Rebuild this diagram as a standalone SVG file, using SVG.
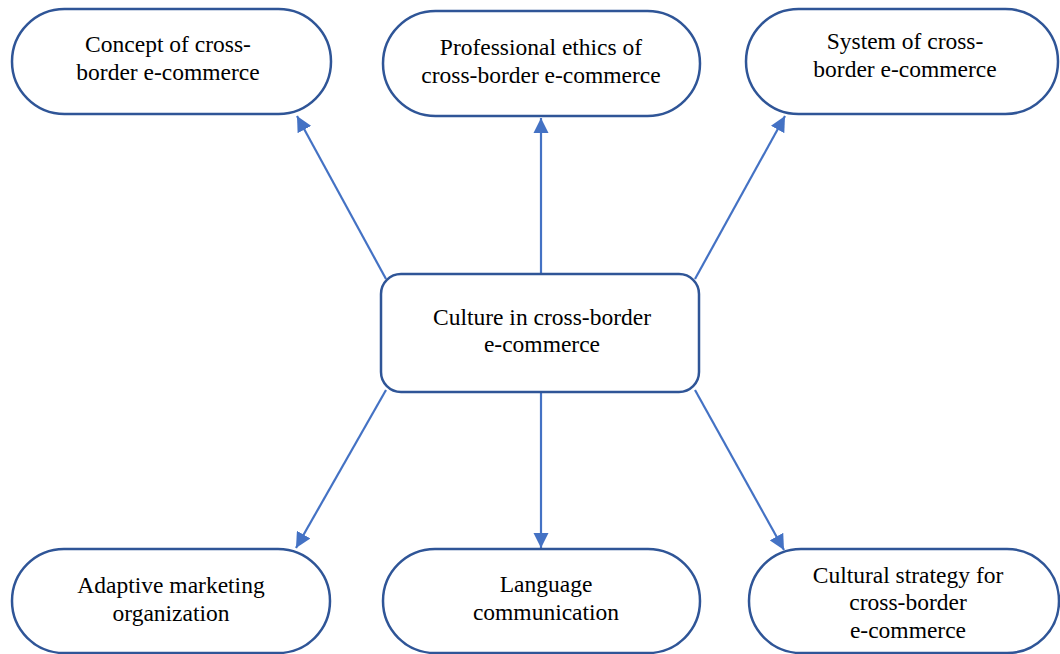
<svg xmlns="http://www.w3.org/2000/svg" width="1060" height="654" viewBox="0 0 1060 654">
<style>
.node{fill:#fff;stroke:#2F5597;stroke-width:2.5}
.t{font-family:"Liberation Serif","Times New Roman",serif;font-size:23.5px;fill:#000;text-anchor:middle}
.c{stroke:#4472C4;stroke-width:2.2;fill:none;marker-end:url(#ah)}
</style>
<defs>
<marker id="ah" markerWidth="7" markerHeight="7" refX="7" refY="3.5" orient="auto" markerUnits="strokeWidth">
<path d="M0,0 L7,3.5 L0,7 Z" fill="#4472C4"/>
</marker>
</defs>
<rect width="1060" height="654" fill="#fff"/>
<g id="connectors">
<line class="c" x1="386" y1="279" x2="297" y2="116"/>
<line class="c" x1="541" y1="274" x2="541" y2="118"/>
<line class="c" x1="695" y1="279" x2="785" y2="116"/>
<line class="c" x1="386" y1="390" x2="296" y2="548"/>
<line class="c" x1="541" y1="392" x2="541" y2="548"/>
<line class="c" x1="695" y1="390" x2="784" y2="550"/>
</g>
<g id="n-center">
<rect class="node" x="381" y="274" width="318" height="118" rx="20"/>
<text class="t" x="542" y="325">Culture in cross-border</text>
<text class="t" x="542" y="352">e-commerce</text>
</g>
<g id="n-concept">
<rect class="node" x="12" y="9" width="319" height="105" rx="52.5"/>
<text class="t" x="168" y="52">Concept of cross-</text>
<text class="t" x="168" y="80">border e-commerce</text>
</g>
<g id="n-ethics">
<rect class="node" x="383" y="11" width="317" height="105" rx="52.5"/>
<text class="t" x="541" y="55">Professional ethics of</text>
<text class="t" x="541" y="83">cross-border e-commerce</text>
</g>
<g id="n-system">
<rect class="node" x="746" y="9" width="312" height="105" rx="52.5"/>
<text class="t" x="905" y="49">System of cross-</text>
<text class="t" x="905" y="77">border e-commerce</text>
</g>
<g id="n-adaptive">
<rect class="node" x="12" y="549" width="318" height="104" rx="52"/>
<text class="t" x="171" y="593">Adaptive marketing</text>
<text class="t" x="171" y="621">organization</text>
</g>
<g id="n-language">
<rect class="node" x="383" y="549" width="317" height="104" rx="52"/>
<text class="t" x="546" y="592">Language</text>
<text class="t" x="546" y="620">communication</text>
</g>
<g id="n-strategy">
<rect class="node" x="749" y="549" width="310" height="104" rx="52"/>
<text class="t" x="908" y="583">Cultural strategy for</text>
<text class="t" x="908" y="610">cross-border</text>
<text class="t" x="908" y="638">e-commerce</text>
</g>
</svg>
